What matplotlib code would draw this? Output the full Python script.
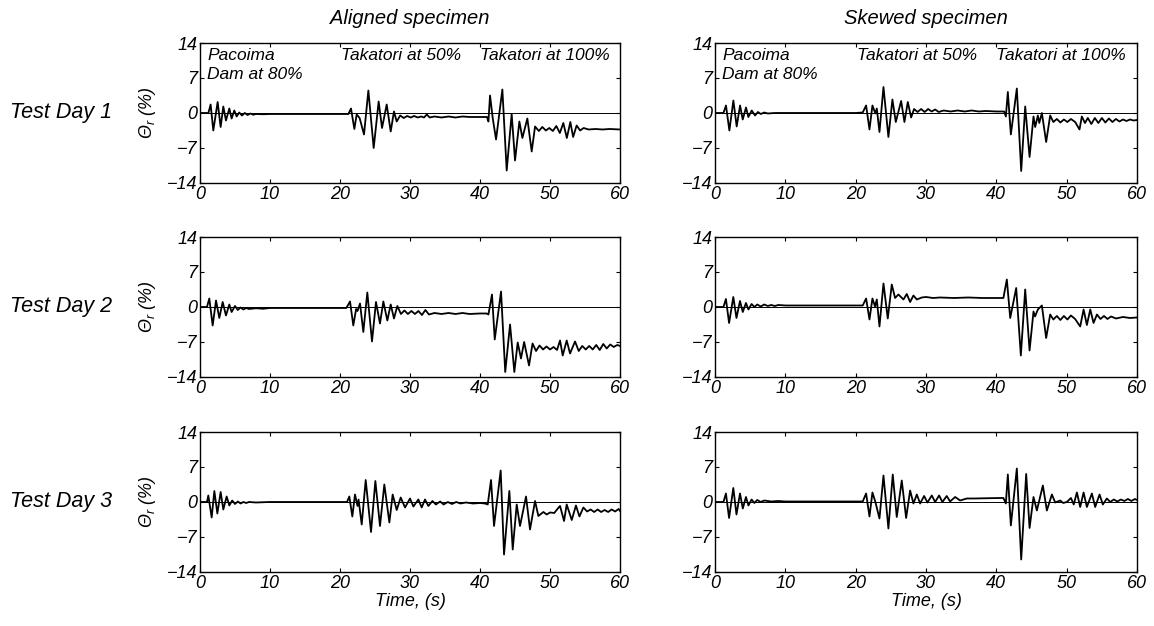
import matplotlib
matplotlib.use('Agg')
import matplotlib.pyplot as plt

plt.rcParams['font.family'] = 'Liberation Sans'
plt.rcParams['font.style'] = 'italic'
plt.rcParams['mathtext.fontset'] = 'custom'
plt.rcParams['mathtext.rm'] = 'Liberation Sans:italic'
plt.rcParams['mathtext.it'] = 'Liberation Sans:italic'

# Rotation histories (time in s, rotation in %)
t_a1 = [0, 1.2, 1.52, 1.9, 2.52, 2.95, 3.33, 3.71, 4.19, 4.52, 4.9, 5.24, 5.6, 6.0, 6.4, 6.8, 7.2, 7.6, 8.0, 9.0, 10,
        21.2, 21.57, 22.05, 22.38, 22.8, 23.43, 24.05, 24.81, 25.52, 26.0, 26.67, 27.24, 27.71, 28.1, 28.6, 29.1, 29.6,
        30.1, 30.6, 31.1, 31.6, 32.0, 32.4, 32.8, 33.5, 34.5, 35.5, 36.5, 37.5, 38.5, 40.0, 41.0,
        41.2, 41.43, 41.81, 42.29, 43.19, 43.81, 44.52, 45.0, 45.62, 46.05, 46.76, 47.38, 47.86, 48.4, 48.9, 49.4, 49.9,
        50.4, 50.9, 51.4, 51.9, 52.4, 52.9, 53.3, 53.8, 54.3, 54.8, 55.5, 56.5, 57.5, 58.5, 60]
v_a1 = [0, 0, 1.7, -3.5, 2.2, -2.8, 1.3, -1.5, 0.9, -1.1, 0.5, -0.7, 0.1, -0.5, 0, -0.4, -0.1, -0.35, -0.2, -0.25, -0.2,
        -0.2, 0.9, -3.2, -0.3, -1.0, -4.3, 4.5, -7.0, 2.3, -3.0, 1.7, -3.7, 0.3, -1.7, -0.5, -1.0, -0.6,
        -0.9, -0.6, -0.9, -0.7, -0.9, -0.3, -0.9, -0.7, -0.9, -0.7, -0.9, -0.7, -0.8, -0.8, -0.8,
        -1.7, 3.5, -1.0, -5.3, 4.7, -11.5, -0.2, -9.5, -1.7, -5.0, -1.1, -7.7, -2.7, -3.6, -2.8, -3.5, -3.0,
        -3.6, -2.6, -4.0, -2.0, -5.0, -1.8, -4.8, -2.5, -3.5, -3.0, -3.3, -3.2, -3.3, -3.2, -3.3]

t_s1 = [0, 1.2, 1.56, 2.04, 2.61, 3.08, 3.56, 3.94, 4.41, 4.74, 5.22, 5.69, 6.1, 6.5, 7.0, 7.5, 8.5, 10, 20, 21.0,
        21.48, 21.96, 22.38, 22.8, 23.0, 23.38, 23.95, 24.65, 25.22, 25.7, 26.46, 26.93, 27.41, 27.88, 28.3, 28.8,
        29.3, 29.8, 30.3, 30.8, 31.3, 31.8, 32.5, 33.5, 34.5, 35.5, 36.5, 37.5, 38.5, 40.0, 41.1,
        41.35, 41.63, 42.06, 42.91, 43.53, 44.1, 44.72, 45.28, 45.52, 45.9, 46.1, 46.47, 47.08, 47.65, 48.1, 48.6,
        49.1, 49.6, 50.1, 50.6, 51.2, 51.82, 52.15, 52.6, 53.0, 53.5, 54.0, 54.5, 55.0, 55.5, 56.0, 56.5, 57.0,
        57.5, 58.0, 58.5, 59.0, 59.5, 60]
v_s1 = [0, 0, 1.5, -3.5, 2.5, -2.7, 1.5, -1.3, 1.1, -0.8, 0.5, -0.5, 0.2, -0.2, 0.1, -0.1, 0, 0, 0, 0.1,
        1.5, -3.3, 1.5, -0.1, 0.9, -3.8, 5.2, -4.8, 2.7, -1.8, 2.4, -1.8, 2.2, -0.9, 0.8, 0.2,
        0.8, 0.2, 0.8, 0.3, 0.7, 0.2, 0.5, 0.3, 0.5, 0.3, 0.5, 0.3, 0.4, 0.3, 0.3,
        -0.7, 4.2, -4.3, 4.9, -11.6, 1.3, -8.8, -0.7, -2.8, -0.5, -2.0, 0, -5.8, -0.5, -1.8, -1.2,
        -1.9, -1.3, -1.8, -1.2, -1.8, -3.3, -0.7, -2.0, -1.0, -2.2, -1.0, -2.0, -1.0, -1.9, -1.1, -1.8, -1.2,
        -1.7, -1.3, -1.6, -1.3, -1.5, -1.4]

t_a2 = [0, 1.0, 1.33, 1.81, 2.29, 2.76, 3.24, 3.71, 4.19, 4.52, 5.0, 5.4, 5.8, 6.2, 6.6, 7.0, 8, 9, 10, 20.9,
        21.43, 21.9, 22.3, 22.5, 22.86, 23.33, 23.9, 24.57, 25.14, 25.71, 26.19, 26.76, 27.24, 27.71, 28.19, 28.7,
        29.2, 29.7, 30.2, 30.7, 31.2, 31.7, 32.2, 32.7, 33.5, 34.5, 35.5, 36.5, 37.5, 38.5, 40.0, 40.95,
        41.2, 41.71, 42.1, 43.0, 43.6, 44.29, 44.9, 45.38, 45.85, 46.3, 47.0, 47.5, 48.0, 48.5, 49.0, 49.5, 50.0,
        50.5, 51.0, 51.43, 51.81, 52.38, 52.86, 53.57, 54.1, 54.6, 55.1, 55.6, 56.1, 56.6, 57.1, 57.6, 58.1, 58.6,
        59.1, 59.6, 60]
v_a2 = [0, 0, 1.7, -3.7, 1.3, -2.2, 1.0, -1.7, 0.5, -1.0, 0.2, -0.6, -0.1, -0.5, -0.2, -0.4, -0.25, -0.35, -0.2, -0.2,
        1.1, -3.7, -0.4, -0.8, 0.7, -5.0, 2.9, -6.9, 1.0, -3.3, 1.1, -2.7, 0.5, -2.3, 0.2, -1.4,
        -0.7, -1.4, -0.8, -1.4, -0.8, -1.6, -0.6, -1.5, -1.2, -1.4, -1.2, -1.4, -1.2, -1.4, -1.3, -1.3,
        -1.5, 2.5, -6.5, 3.1, -13.0, -3.5, -13.0, -7.1, -10.3, -7.0, -11.7, -7.3, -8.8, -7.7, -8.5, -7.9, -8.5,
        -8.0, -8.6, -6.7, -9.7, -6.7, -9.3, -6.9, -8.8, -7.8, -8.5, -7.8, -8.5, -7.6, -8.6, -7.4, -8.3, -7.5,
        -8.0, -7.6, -7.8]

t_s2 = [0, 1.2, 1.55, 2.0, 2.6, 3.05, 3.55, 3.95, 4.4, 4.75, 5.2, 5.6, 6.0, 6.5, 7.0, 7.5, 8, 8.5, 9, 10, 20, 21.0,
        21.48, 21.96, 22.38, 22.75, 23.0, 23.38, 23.95, 24.56, 25.13, 25.6, 26.08, 26.79, 27.26, 27.74, 28.21, 28.69,
        29.4, 30.0, 31.0, 32.0, 34.0, 36.0, 38.0, 41.0,
        41.49, 41.97, 42.82, 43.48, 44.1, 44.72, 45.28, 45.5, 45.9, 46.47, 47.08, 47.65, 48.1, 48.6, 49.1, 49.6,
        50.1, 50.6, 51.2, 51.92, 52.4, 52.87, 53.35, 53.82, 54.3, 54.8, 55.3, 55.8, 56.3, 57.0, 58.0, 59.0, 60]
v_s2 = [0, 0, 1.6, -3.2, 2.0, -2.2, 1.2, -1.0, 0.8, -0.5, 0.6, 0, 0.5, 0.1, 0.5, 0.2, 0.4, 0.2, 0.4, 0.3, 0.3, 0.3,
        1.7, -2.5, 1.7, 0.1, 1.5, -3.9, 4.7, -2.3, 4.5, 1.8, 2.5, 1.5, 2.6, 1.0, 2.3, 1.5,
        1.9, 2.0, 1.8, 1.9, 1.8, 1.9, 1.8, 1.8,
        5.5, -2.2, 3.8, -9.7, 3.5, -8.7, -0.9, -1.9, -0.5, 0.3, -6.2, -1.5, -2.5, -1.8, -2.6, -1.8,
        -2.5, -1.7, -2.4, -3.9, -0.5, -3.6, -0.5, -3.2, -1.5, -2.4, -1.8, -2.4, -1.9, -2.3, -2.0, -2.2, -2.1]

t_a3 = [0, 1.0, 1.19, 1.67, 2.05, 2.48, 2.95, 3.33, 3.81, 4.19, 4.6, 5.0, 5.4, 5.8, 6.2, 6.6, 7.0, 8, 10, 21.0,
        21.33, 21.76, 22.14, 22.5, 22.65, 23.1, 23.67, 24.43, 25.05, 25.71, 26.33, 27.05, 27.52, 28.1, 28.67, 29.29,
        30.0, 30.48, 31.19, 31.67, 32.14, 32.62, 33.2, 33.7, 34.3, 34.8, 35.4, 36.0, 36.6, 37.2, 38, 39, 40, 40.7,
        41.1, 41.57, 42.0, 42.95, 43.43, 44.19, 44.67, 45.24, 45.71, 46.57, 47.14, 47.86, 48.33, 49.05, 49.52, 50.0,
        50.6, 51.0, 51.43, 52.0, 52.38, 53.1, 53.7, 54.2, 54.76, 55.3, 55.8, 56.3, 56.8, 57.3, 57.8, 58.3, 58.8,
        59.3, 59.8, 60]
v_a3 = [0, 0, 1.3, -3.1, 2.2, -2.3, 2.0, -1.5, 1.1, -0.7, 0.3, -0.4, 0.1, -0.3, 0, -0.2, 0, -0.1, 0, 0,
        1.1, -2.9, 1.5, -0.8, 0.5, -4.5, 4.4, -6.0, 4.2, -4.8, 3.5, -4.1, 1.5, -1.6, 0.9, -1.1,
        0.7, -0.9, 0.5, -1.1, 0.5, -0.8, 0.2, -0.5, 0.1, -0.5, 0, -0.4, 0, -0.3, -0.1, -0.3, -0.2, -0.3,
        -0.5, 4.4, -4.8, 6.3, -10.5, 2.2, -9.5, -0.5, -4.8, 1.1, -5.5, 0.2, -2.8, -2.0, -2.5, -2.1,
        -2.2, -1.5, -0.8, -3.8, -0.5, -3.6, -0.7, -2.9, -1.1, -1.9, -1.5, -2.0, -1.5, -2.0, -1.6, -2.0, -1.5,
        -1.9, -1.4, -1.8]

t_s3 = [0, 1.2, 1.55, 2.0, 2.6, 3.05, 3.55, 3.95, 4.4, 4.75, 5.2, 5.6, 6.0, 6.5, 7, 8, 9, 10, 20, 21.0,
        21.48, 21.96, 22.38, 22.8, 23.38, 23.95, 24.65, 25.27, 25.84, 26.55, 27.17, 27.74, 28.21, 28.69, 29.16, 29.73,
        30.2, 30.82, 31.29, 31.86, 32.33, 32.94, 33.42, 34.14, 34.85, 35.8, 36.75, 40.55, 41.0,
        41.35, 41.63, 42.06, 42.91, 43.53, 44.24, 44.72, 45.28, 45.76, 46.61, 47.18, 47.89, 48.37, 49.07, 49.5, 50.02,
        50.6, 51.0, 51.45, 51.92, 52.4, 52.87, 53.58, 54.05, 54.67, 55.14, 55.71, 56.19, 56.7, 57.2, 57.7, 58.2,
        58.7, 59.2, 59.7, 60]
v_s3 = [0, 0, 1.7, -3.2, 2.8, -2.5, 1.7, -1.3, 1.0, -0.7, 0.5, -0.2, 0.4, 0, 0.3, 0.1, 0.2, 0.1, 0.1, 0.1,
        1.7, -2.9, 1.9, 0, -3.3, 5.3, -5.3, 5.5, -3.0, 4.3, -3.2, 2.3, -0.3, 1.5, -0.3, 1.2,
        -0.1, 1.3, 0, 1.3, 0, 1.2, 0.1, 1.0, 0.3, 0.7, 0.7, 0.8, 0.8,
        -0.3, 5.5, -4.7, 6.7, -11.5, 5.6, -5.2, 1.0, -1.7, 3.3, -1.7, 1.5, -0.1, 0.3, -0.2, 0,
        0.8, -0.5, 1.9, -1.0, 1.9, -1.0, 1.7, -1.0, 1.5, -0.5, 0.7, 0, 0.5, 0.1, 0.5, 0.2,
        0.6, 0.2, 0.6, 0.4]

col_titles = ['Aligned specimen', 'Skewed specimen']
row_labels = ['Test Day 1', 'Test Day 2', 'Test Day 3']
event_labels = ['Pacoima\nDam at 80%', 'Takatori at 50%', 'Takatori at 100%']
event_x = [1.0, 20.2, 40.0]
yticks = [-14, -7, 0, 7, 14]
xticks = [0, 10, 20, 30, 40, 50, 60]

series = [[(t_a1, v_a1), (t_s1, v_s1)],
          [(t_a2, v_a2), (t_s2, v_s2)],
          [(t_a3, v_a3), (t_s3, v_s3)]]

fig = plt.figure(figsize=(11.54, 6.26), dpi=100)
lefts = [0.1733, 0.6196]
widths = [0.3640, 0.3657]
bottoms = [0.7077, 0.3978, 0.0863]
height = 0.2236

for r in range(3):
    for c in range(2):
        ax = fig.add_axes([lefts[c], bottoms[r], widths[c], height])
        t, v = series[r][c]
        ax.axhline(0, color='black', lw=0.7)
        ax.plot(t, v, color='black', lw=1.3, solid_joinstyle='round')
        ax.set_xlim(0, 60)
        ax.set_ylim(-14, 14)
        ax.set_xticks(xticks)
        ax.set_yticks(yticks)
        ax.tick_params(direction='in', top=True, right=True, length=3, width=0.8,
                       labelsize=13, pad=2)
        for s in ax.spines.values():
            s.set_linewidth(1.0)
        if c == 0:
            ax.set_ylabel(r'$\Theta_r$ (%)', fontsize=13, labelpad=6)
            pos = ax.get_position()
            fig.text(0.009, pos.y0 + pos.height / 2, row_labels[r], fontsize=15.5,
                     ha='left', va='center')
        if r == 0:
            ax.set_title(col_titles[c], fontsize=14.5, pad=14)
            for lab, x in zip(event_labels, event_x):
                ax.text(x, 13.0, lab, fontsize=12.5, ha='left', va='top', linespacing=1.3)
        if r == 2:
            ax.set_xlabel('Time, (s)', fontsize=13, labelpad=1)

plt.savefig('out.png', dpi=100)
